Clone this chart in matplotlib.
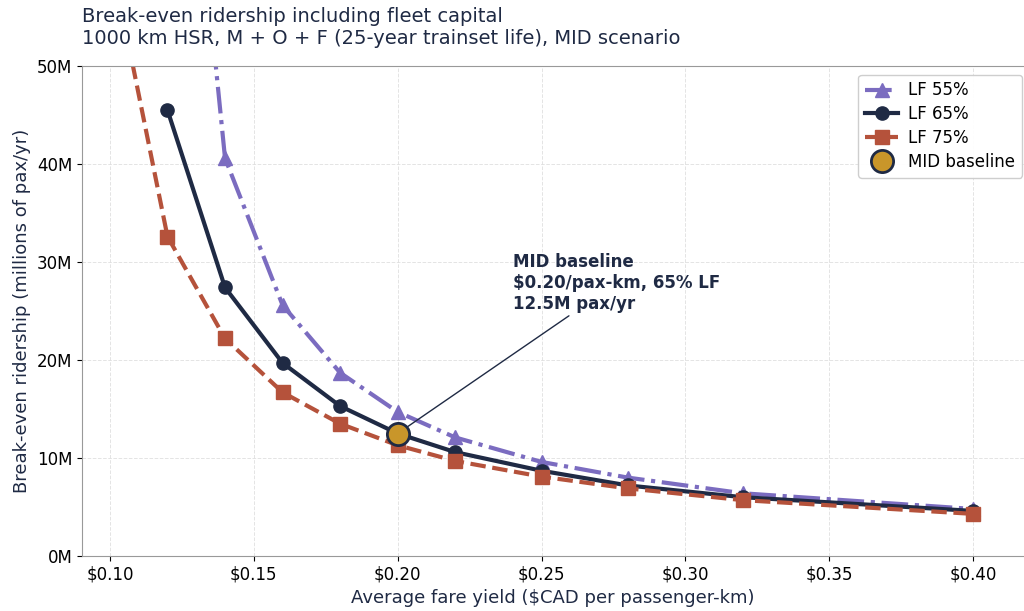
import numpy as np
import matplotlib
matplotlib.use("Agg")
import matplotlib.pyplot as plt
from matplotlib.ticker import FuncFormatter

NAVY = '#1f2a44'

# fare yield ($CAD / pax-km)
yields = [0.10, 0.12, 0.14, 0.16, 0.18, 0.20, 0.22, 0.25, 0.28, 0.32, 0.40]

# break-even ridership, millions pax/yr (nan = no break-even)
lf55 = [np.nan, 99.3, 40.6, 25.6, 18.7, 14.7, 12.1, 9.6, 8.0, 6.4, 4.8]
lf65 = [np.nan, 45.5, 27.4, 19.7, 15.3, 12.5, 10.6, 8.7, 7.2, 6.0, 4.6]
lf75 = [61.6, 32.6, 22.2, 16.7, 13.5, 11.3, 9.7, 8.1, 6.9, 5.7, 4.3]

base_x, base_y = 0.20, 12.5

fig = plt.figure(figsize=(10.24, 6.11), dpi=100)
ax = fig.add_axes([0.0801, 0.090, 0.9199, 0.802])

ax.plot(yields, lf55, color='#7b6cc0', ls='-.', lw=3, marker='^', ms=9.5, label='LF 55%')
ax.plot(yields, lf65, color=NAVY, ls='-', lw=3, marker='o', ms=9.5, label='LF 65%')
ax.plot(yields, lf75, color='#b5523b', ls='--', lw=3, marker='s', ms=9.5, label='LF 75%')
ax.plot([base_x], [base_y], ls='none', marker='o', ms=16, mfc='#c9962a', mec=NAVY, mew=2,
        label='MID baseline', zorder=5)

ax.annotate('MID baseline\n$0.20/pax-km, 65% LF\n12.5M pax/yr', xy=(base_x, base_y),
            xytext=(0.24, 25.2), fontsize=12, fontweight='bold', color=NAVY,
            arrowprops=dict(arrowstyle='-', color=NAVY, lw=1, shrinkA=0, shrinkB=8))

ax.set_xlim(0.0903, 0.4177)
ax.set_ylim(0, 50)
ax.set_xticks([0.10, 0.15, 0.20, 0.25, 0.30, 0.35, 0.40])
ax.xaxis.set_major_formatter(FuncFormatter(lambda v, p: f'${v:.2f}'))
ax.yaxis.set_major_formatter(FuncFormatter(lambda v, p: f'{v:.0f}M'))
ax.tick_params(labelsize=12)

ax.grid(True, ls='--', color='#dddddd', lw=0.7, alpha=0.8)
for s in ['top', 'left', 'bottom']:
    ax.spines[s].set_color('#999999')
ax.spines['right'].set_visible(False)

ax.set_xlabel('Average fare yield ($CAD per passenger-km)', fontsize=13, color=NAVY)
ax.set_ylabel('Break-even ridership (millions of pax/yr)', fontsize=13, color=NAVY)
ax.set_title('Break-even ridership including fleet capital\n'
             '1000 km HSR, M + O + F (25-year trainset life), MID scenario',
             loc='left', fontsize=14, color=NAVY, pad=16)

ax.legend(loc='upper right', bbox_to_anchor=(0.998, 0.982), borderaxespad=0,
          fontsize=12, framealpha=0.95, labelspacing=0.35, handletextpad=0.6)

fig.savefig('out.png', dpi=100)
